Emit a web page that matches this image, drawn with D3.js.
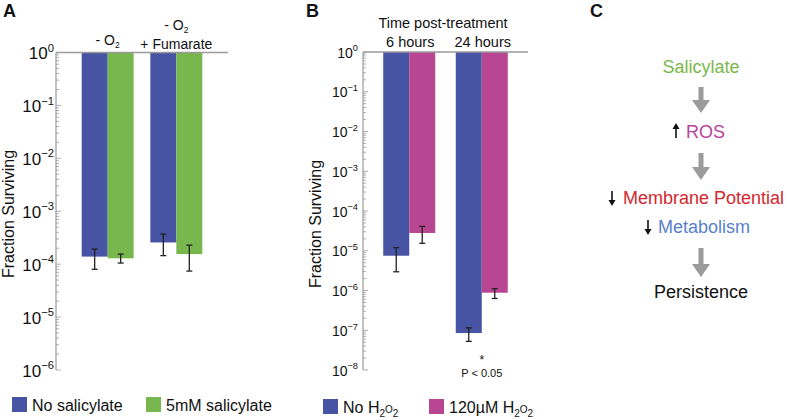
<!DOCTYPE html>
<html><head><meta charset="utf-8">
<script src="https://cdn.jsdelivr.net/npm/d3@7"></script>
<style>
body{margin:0;background:#fff;}
svg text{font-family:"Liberation Sans",Arial,Helvetica,sans-serif;}
</style></head><body>
<svg id="c" width="787" height="420"></svg>
<script>
// Panel A data
const groupsA = ["-O2", "-O2 + Fumarate"];
const seriesA = ["No salicylate", "5mM salicylate"];
const valuesA = [[1.39e-4, 1.29e-4], [2.57e-4, 1.55e-4]];
const errHiA = [[1.93e-4, 1.55e-4], [3.7e-4, 2.29e-4]];
const errLoA = [[8.0e-5, 1.05e-4], [1.45e-4, 7.4e-5]];
const ticksA = [0, -1, -2, -3, -4, -5, -6];
// Panel B data
const groupsB = ["6 hours", "24 hours"];
const seriesB = ["No H2O2", "120µM H2O2"];
const valuesB = [[7.5e-6, 2.8e-5], [8.5e-8, 8.8e-7]];
const errHiB = [[1.2e-5, 4.1e-5], [1.15e-7, 1.11e-6]];
const errLoB = [[2.96e-6, 1.54e-5], [5.25e-8, 6.3e-7]];
const ticksB = [0, -1, -2, -3, -4, -5, -6, -7, -8];

const blue = "#4753a3", green = "#78b74e", magenta = "#b84693";
const axisGray = "#9a9a9a";
const svg = d3.select("#c");

function panel(opt){
  const g = svg.append("g");
  const y = d3.scaleLog().domain([1, Math.pow(10, opt.ticks[opt.ticks.length-1])]).range([opt.top, opt.bottom]);
  const xg = d3.scaleBand().domain(opt.groups).range([opt.left, opt.right]).paddingInner(opt.padIn).paddingOuter(opt.padOut);
  const xs = d3.scaleBand().domain(opt.series).range([0, xg.bandwidth()]);
  // minor ticks
  const lo = opt.ticks[opt.ticks.length-1];
  for (let e = lo; e < 0; e++) {
    for (let m = 1; m <= 9; m++) {
      const v = m * Math.pow(10, e);
      g.append("line").attr("x1", opt.left).attr("x2", opt.left + (m===1?5:3))
        .attr("y1", y(v)).attr("y2", y(v)).attr("stroke", axisGray).attr("stroke-width", 0.8);
    }
  }
  // bars
  opt.groups.forEach((gr, i) => {
    opt.series.forEach((s, j) => {
      const x = xg(gr) + xs(s);
      g.append("rect").attr("x", x).attr("y", y(1)).attr("width", xs.bandwidth())
        .attr("height", y(opt.values[i][j]) - y(1)).attr("fill", opt.colors[j]);
      const cx = x + xs.bandwidth()/2;
      const yh = y(opt.hi[i][j]), yl = y(opt.lo[i][j]);
      g.append("line").attr("x1", cx).attr("x2", cx).attr("y1", yh).attr("y2", yl).attr("stroke", "#222").attr("stroke-width", 1.3);
      [yh, yl].forEach(yy => g.append("line").attr("x1", cx-3).attr("x2", cx+3).attr("y1", yy).attr("y2", yy).attr("stroke", "#222").attr("stroke-width", 1.3));
    });
  });
  // axis line
  g.append("line").attr("x1", opt.left).attr("x2", opt.left).attr("y1", y(1)).attr("y2", opt.bottom).attr("stroke", axisGray).attr("stroke-width", 1.2);
  g.append("line").attr("x1", opt.left).attr("x2", opt.right).attr("y1", y(1)).attr("y2", y(1)).attr("stroke", axisGray).attr("stroke-width", 1.5);
  // tick labels
  opt.ticks.forEach(e => {
    const t = g.append("text").attr("x", opt.labEnd).attr("y", y(Math.pow(10, e)) + opt.fs*0.4)
      .attr("text-anchor", "end").attr("font-size", opt.fs).attr("fill", "#111");
    t.append("tspan").text("10");
    t.append("tspan").attr("dy", -opt.fs*0.45).attr("font-size", opt.fs*0.66).text(e === 0 ? "0" : "\u2212" + (-e));
  });
  // y label
  g.append("text").attr("transform", `translate(${opt.ylabX},${opt.ylabY}) rotate(-90)`)
    .attr("text-anchor", "middle").attr("font-size", 16).attr("fill", "#111").text("Fraction Surviving");
  return {xg, y};
}

const A = panel({groups: groupsA, series: seriesA, values: valuesA, hi: errHiA, lo: errLoA, ticks: ticksA,
  colors: [blue, green], top: 52.5, bottom: 370, left: 56, right: 228, padIn: 0.243, padOut: 0.374,
  fs: 17, labEnd: 54, ylabX: 14, ylabY: 214});
const B = panel({groups: groupsB, series: seriesB, values: valuesB, hi: errHiB, lo: errLoB, ticks: ticksB,
  colors: [blue, magenta], top: 52, bottom: 370, left: 363, right: 528, padIn: 0.283, padOut: 0.279,
  fs: 14, labEnd: 358, ylabX: 321, ylabY: 224});

// Panel letters
[["A", 3, 17], ["B", 306, 17], ["C", 590, 17]].forEach(d =>
  svg.append("text").attr("x", d[1]).attr("y", d[2]).attr("font-size", 18).attr("font-weight", "bold").attr("fill", "#111").text(d[0]));

// Headers A
function o2(x, y, prefix) {
  const t = svg.append("text").attr("x", x).attr("y", y).attr("text-anchor", "middle").attr("font-size", 14).attr("fill", "#111");
  t.append("tspan").text(prefix + "O");
  t.append("tspan").attr("dy", 3).attr("font-size", 8.5).text("2");
  return t;
}
o2(A.xg(groupsA[0]) + A.xg.bandwidth()/2, 45, "- ");
o2(A.xg(groupsA[1]) + A.xg.bandwidth()/2, 30, "- ");
svg.append("text").attr("x", A.xg(groupsA[1]) + A.xg.bandwidth()/2).attr("y", 49).attr("text-anchor", "middle").attr("font-size", 14).attr("fill", "#111").text("+ Fumarate");

// Headers B
svg.append("text").attr("x", 443).attr("y", 28).attr("text-anchor", "middle").attr("font-size", 14.5).attr("fill", "#111").text("Time post-treatment");
groupsB.forEach(gr => svg.append("text").attr("x", B.xg(gr) + B.xg.bandwidth()/2 + 1).attr("y", 47).attr("text-anchor", "middle").attr("font-size", 14.5).attr("fill", "#111").text(gr));

// significance
const sx = B.xg(groupsB[1]) + B.xg.bandwidth()/2;
svg.append("text").attr("x", sx).attr("y", 364).attr("text-anchor", "middle").attr("font-size", 12).attr("fill", "#111").text("*");
svg.append("text").attr("x", sx).attr("y", 377).attr("text-anchor", "middle").attr("font-size", 11).attr("fill", "#111").text("P < 0.05");

// Legends
function legendItem(x, y, color, parts) {
  svg.append("rect").attr("x", x).attr("y", y).attr("width", 15).attr("height", 15).attr("fill", color);
  const t = svg.append("text").attr("x", x + 20).attr("y", y + 14).attr("font-size", 16).attr("fill", "#111");
  parts.forEach(p => {
    const ts = t.append("tspan").text(p[0]);
    if (p[1]) ts.attr("font-size", 10).attr("dy", p[1]);
  });
}
legendItem(12, 397, blue, [[seriesA[0]]]);
legendItem(146, 397, green, [[seriesA[1]]]);
legendItem(323, 399, blue, [["No H"], ["2", 4], ["O", -4], ["2", 4]]);
legendItem(429, 399, magenta, [["120µM H"], ["2", 4], ["O", -4], ["2", 4]]);

// Panel C
const cx = 701;
const grayArrow = "#9b9b9b";
function bigArrow(y0, y1) {
  svg.append("line").attr("x1", cx).attr("x2", cx).attr("y1", y0).attr("y2", y1 - 10).attr("stroke", grayArrow).attr("stroke-width", 5);
  svg.append("path").attr("d", `M${cx-9},${y1-13} L${cx+9},${y1-13} L${cx},${y1} Z`).attr("fill", grayArrow);
}
function smallArrow(x, yc, up) {
  const s = up ? -1 : 1;
  svg.append("line").attr("x1", x).attr("x2", x).attr("y1", yc - 7*s).attr("y2", yc + 3*s).attr("stroke", "#111").attr("stroke-width", 1.6);
  svg.append("path").attr("d", `M${x-3.5},${yc+2*s} L${x+3.5},${yc+2*s} L${x},${yc+8*s} Z`).attr("fill", "#111");
}
svg.append("text").attr("x", cx).attr("y", 73).attr("text-anchor", "middle").attr("font-size", 18).attr("fill", "#79b84d").text("Salicylate");
bigArrow(87, 113);
smallArrow(676, 131, true);
svg.append("text").attr("x", 686).attr("y", 138).attr("font-size", 18).attr("fill", "#b8449b").text("ROS");
bigArrow(153, 180);
smallArrow(612, 198, false);
svg.append("text").attr("x", 623).attr("y", 204).attr("font-size", 18).attr("fill", "#d4272e").text("Membrane Potential");
smallArrow(648, 227, false);
svg.append("text").attr("x", 658).attr("y", 233).attr("font-size", 18).attr("fill", "#5a7fcc").text("Metabolism");
bigArrow(248, 277);
svg.append("text").attr("x", cx).attr("y", 298).attr("text-anchor", "middle").attr("font-size", 18).attr("fill", "#111").text("Persistence");
</script></body></html>
